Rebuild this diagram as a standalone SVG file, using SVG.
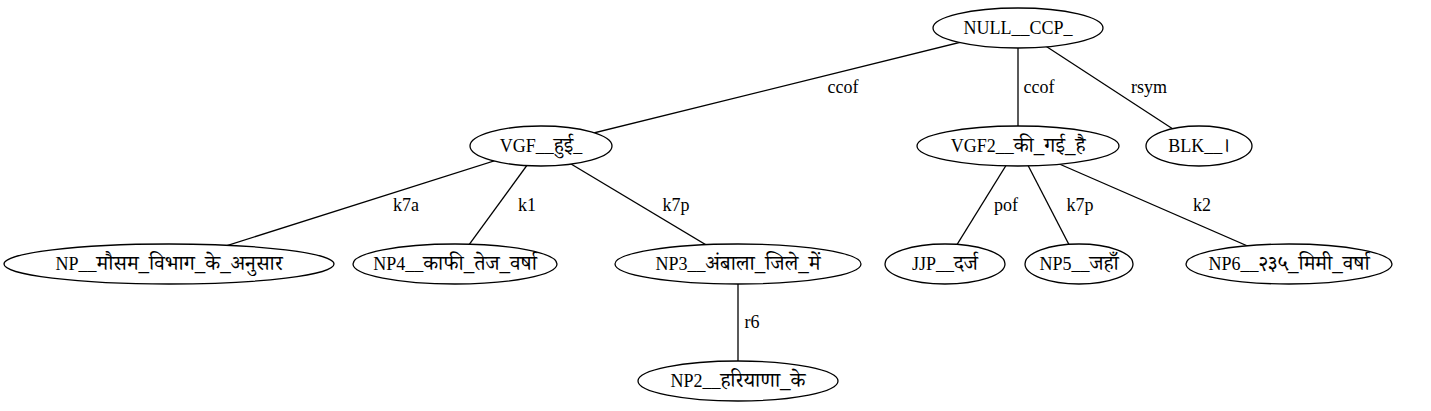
<svg xmlns="http://www.w3.org/2000/svg" width="1431" height="411" viewBox="0 0 1431 411">
<style>
.n ellipse{fill:#fff;stroke:#000;stroke-width:1.3}
.e line{stroke:#000;stroke-width:1.3}
text{font-family:"Liberation Serif","Noto Serif Devanagari","Noto Sans Devanagari",serif;font-size:18px;text-anchor:middle;fill:#000}
.d{font-size:21px}
</style>
<rect width="1431" height="411" fill="#fff"/>
<g id="edges" class="e">
<line x1="1018" y1="28" x2="541" y2="146"/>
<line x1="1018" y1="28" x2="1018" y2="146"/>
<line x1="1018" y1="28" x2="1199" y2="146"/>
<line x1="541" y1="146" x2="169" y2="264"/>
<line x1="541" y1="146" x2="455" y2="264"/>
<line x1="541" y1="146" x2="738" y2="264"/>
<line x1="1018" y1="146" x2="945" y2="264"/>
<line x1="1018" y1="146" x2="1079" y2="264"/>
<line x1="1018" y1="146" x2="1289" y2="264"/>
<line x1="738" y1="264" x2="738" y2="381"/>
<text x="843" y="93">ccof</text>
<text x="1039" y="93">ccof</text>
<text x="1149" y="93">rsym</text>
<text x="406" y="211">k7a</text>
<text x="527" y="211">k1</text>
<text x="676" y="211">k7p</text>
<text x="1006" y="211">pof</text>
<text x="1080" y="211">k7p</text>
<text x="1202" y="211">k2</text>
<text x="752" y="328">r6</text>
</g>
<g id="n_null" class="n"><ellipse cx="1018" cy="28" rx="85" ry="20"/><text x="1018" y="34">NULL__CCP_</text></g>
<g id="n_vgf" class="n"><ellipse cx="541" cy="146" rx="71" ry="20"/><text x="541" y="152">VGF__<tspan class="d">हुई</tspan>_</text></g>
<g id="n_vgf2" class="n"><ellipse cx="1018" cy="146" rx="101" ry="20"/><text x="1018" y="152">VGF2__<tspan class="d">की_गई_है</tspan></text></g>
<g id="n_blk" class="n"><ellipse cx="1199" cy="146" rx="53" ry="20"/><text x="1199" y="152">BLK__<tspan class="d">।</tspan></text></g>
<g id="n_np" class="n"><ellipse cx="169" cy="264" rx="165" ry="20"/><text x="169" y="270">NP__<tspan class="d">मौसम_विभाग_के_अनुसार</tspan></text></g>
<g id="n_np4" class="n"><ellipse cx="455" cy="264" rx="102" ry="20"/><text x="455" y="270">NP4__<tspan class="d">काफी_तेज_वर्षा</tspan></text></g>
<g id="n_np3" class="n"><ellipse cx="738" cy="264" rx="123" ry="20"/><text x="738" y="270">NP3__<tspan class="d">अंबाला_जिले_में</tspan></text></g>
<g id="n_jjp" class="n"><ellipse cx="945" cy="264" rx="60" ry="20"/><text x="945" y="270">JJP__<tspan class="d">दर्ज</tspan></text></g>
<g id="n_np5" class="n"><ellipse cx="1079" cy="264" rx="54" ry="20"/><text x="1079" y="270">NP5__<tspan class="d">जहाँ</tspan></text></g>
<g id="n_np6" class="n"><ellipse cx="1289" cy="264" rx="103" ry="20"/><text x="1289" y="270">NP6__<tspan class="d">२३५_मिमी_वर्षा</tspan></text></g>
<g id="n_np2" class="n"><ellipse cx="738" cy="381" rx="100" ry="20"/><text x="738" y="387">NP2__<tspan class="d">हरियाणा_के</tspan></text></g>
</svg>
